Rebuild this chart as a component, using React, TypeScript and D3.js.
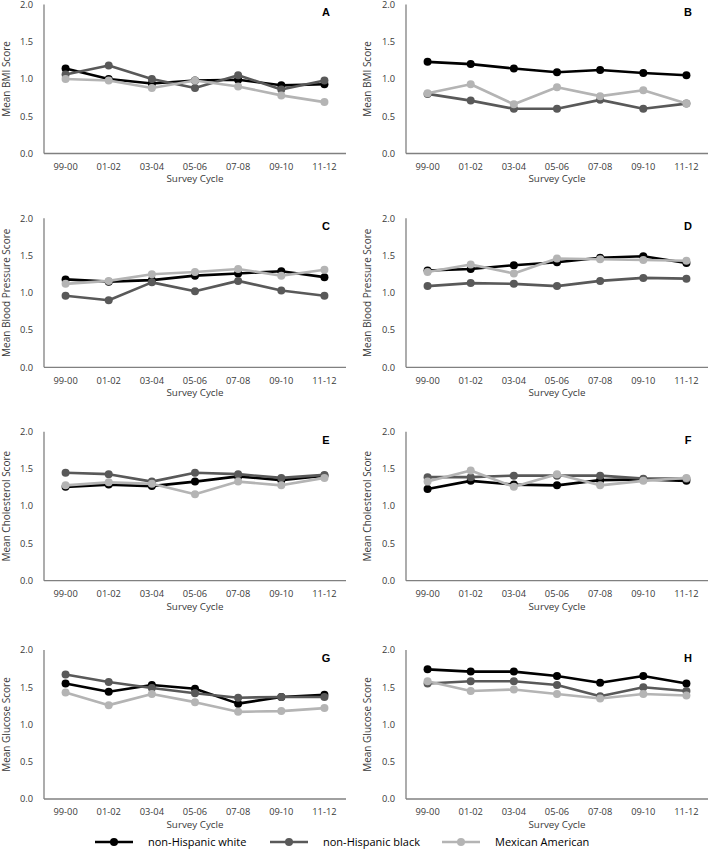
import React from "react";
import * as d3 from "d3";

const cycles = ["99-00", "01-02", "03-04", "05-06", "07-08", "09-10", "11-12"];
const yTicks = [0, 0.5, 1.0, 1.5, 2.0];
const seriesNames = ["non-Hispanic white", "non-Hispanic black", "Mexican American"];
const seriesColors = ["#000000", "#595959", "#b4b4b4"];

// Panel A – BMI
const bmiA_white = [1.14, 1.0, 0.94, 0.98, 0.99, 0.915, 0.93];
const bmiA_black = [1.06, 1.18, 1.0, 0.88, 1.05, 0.86, 0.98];
const bmiA_mex = [1.0, 0.98, 0.88, 0.98, 0.9, 0.78, 0.69];
// Panel B – BMI
const bmiB_white = [1.23, 1.2, 1.14, 1.09, 1.12, 1.08, 1.05];
const bmiB_black = [0.8, 0.71, 0.6, 0.6, 0.72, 0.6, 0.67];
const bmiB_mex = [0.81, 0.93, 0.66, 0.89, 0.77, 0.85, 0.67];
// Panel C – Blood pressure
const bpC_white = [1.18, 1.15, 1.17, 1.23, 1.26, 1.29, 1.21];
const bpC_black = [0.96, 0.9, 1.14, 1.02, 1.16, 1.03, 0.96];
const bpC_mex = [1.12, 1.16, 1.25, 1.28, 1.32, 1.23, 1.31];
// Panel D – Blood pressure
const bpD_white = [1.3, 1.32, 1.37, 1.41, 1.47, 1.49, 1.4];
const bpD_black = [1.09, 1.13, 1.12, 1.09, 1.16, 1.2, 1.19];
const bpD_mex = [1.28, 1.38, 1.26, 1.46, 1.45, 1.44, 1.43];
// Panel E – Cholesterol
const chE_white = [1.26, 1.29, 1.27, 1.33, 1.4, 1.35, 1.41];
const chE_black = [1.45, 1.43, 1.33, 1.45, 1.43, 1.38, 1.42];
const chE_mex = [1.28, 1.32, 1.3, 1.16, 1.33, 1.28, 1.38];
// Panel F – Cholesterol
const chF_white = [1.23, 1.34, 1.29, 1.28, 1.35, 1.36, 1.34];
const chF_black = [1.39, 1.39, 1.41, 1.41, 1.41, 1.37, 1.37];
const chF_mex = [1.33, 1.48, 1.26, 1.43, 1.28, 1.34, 1.38];
// Panel G – Glucose
const glG_white = [1.55, 1.44, 1.53, 1.48, 1.28, 1.37, 1.4];
const glG_black = [1.67, 1.57, 1.49, 1.42, 1.36, 1.37, 1.37];
const glG_mex = [1.43, 1.26, 1.41, 1.3, 1.17, 1.18, 1.22];
// Panel H – Glucose
const glH_white = [1.74, 1.71, 1.71, 1.65, 1.56, 1.65, 1.55];
const glH_black = [1.55, 1.58, 1.58, 1.53, 1.38, 1.5, 1.45];
const glH_mex = [1.58, 1.45, 1.47, 1.41, 1.35, 1.41, 1.39];

const panelLetters = ["A", "B", "C", "D", "E", "F", "G", "H"];
const yLabels = [
  "Mean BMI Score", "Mean BMI Score",
  "Mean Blood Pressure Score", "Mean Blood Pressure Score",
  "Mean Cholesterol Score", "Mean Cholesterol Score",
  "Mean Glucose Score", "Mean Glucose Score",
];
const panelData = [
  [bmiA_white, bmiA_black, bmiA_mex],
  [bmiB_white, bmiB_black, bmiB_mex],
  [bpC_white, bpC_black, bpC_mex],
  [bpD_white, bpD_black, bpD_mex],
  [chE_white, chE_black, chE_mex],
  [chF_white, chF_black, chF_mex],
  [glG_white, glG_black, glG_mex],
  [glH_white, glH_black, glH_mex],
];

const FONT = "'Open Sans', sans-serif";
const TEXT = "#3a3a3a";

const rowTops = [4.5, 218.3, 431.7, 650];
const plotH = 149;
const colLefts = [44, 406];
const plotW = 302;
const yLabelX = [6, 367];

function Panel({ idx }: { idx: number }) {
  const row = Math.floor(idx / 2);
  const col = idx % 2;
  const left = colLefts[col];
  const top = rowTops[row];
  const x = d3.scaleBand<string>().domain(cycles).range([left, left + plotW]);
  const y = d3.scaleLinear().domain([0, 2]).range([top + plotH, top]);
  const line = d3
    .line<number>()
    .x((_, i) => (x(cycles[i]) as number) + x.bandwidth() / 2)
    .y((v) => y(v));
  const series = panelData[idx];
  return (
    <g>
      {yTicks.map((t) => (
        <text
          key={t}
          x={left - 11}
          y={y(t)}
          dy="0.35em"
          textAnchor="end"
          fontSize={9.3}
          fill={TEXT}
          fontFamily={FONT}
        >
          {d3.format(".1f")(t)}
        </text>
      ))}
      <line x1={left} x2={left} y1={top} y2={top + plotH} stroke="#808080" strokeWidth={1.3} />
      <line x1={left} x2={left + plotW} y1={top + plotH} y2={top + plotH} stroke="#808080" strokeWidth={1.3} />
      {cycles.map((c) => (
        <text
          key={c}
          x={(x(c) as number) + x.bandwidth() / 2}
          y={top + plotH + 13}
          dy="0.35em"
          textAnchor="middle"
          fontSize={9.3}
          fill={TEXT}
          fontFamily={FONT}
        >
          {c}
        </text>
      ))}
      <text
        x={left + plotW / 2}
        y={top + plotH + 25.5}
        dy="0.35em"
        textAnchor="middle"
        fontSize={9.8}
        fill={TEXT}
        fontFamily={FONT}
      >
        Survey Cycle
      </text>
      <text
        transform={`translate(${yLabelX[col]},${top + plotH / 2}) rotate(-90)`}
        textAnchor="middle"
        dy="0.35em"
        fontSize={10}
        fill={TEXT}
        fontFamily={FONT}
      >
        {yLabels[idx]}
      </text>
      <text
        x={left + plotW - 20}
        y={top + 8}
        dy="0.35em"
        textAnchor="middle"
        fontSize={11}
        fontWeight="bold"
        fill="#000"
        fontFamily="'Liberation Sans', Arial, sans-serif"
      >
        {panelLetters[idx]}
      </text>
      {series.map((vals, si) => (
        <g key={si}>
          <path d={line(vals) || ""} fill="none" stroke={seriesColors[si]} strokeWidth={2.6} strokeLinejoin="round" />
          {vals.map((v, i) => (
            <circle
              key={i}
              cx={(x(cycles[i]) as number) + x.bandwidth() / 2}
              cy={y(v)}
              r={4}
              fill={seriesColors[si]}
            />
          ))}
        </g>
      ))}
    </g>
  );
}

const legendX = [95, 270, 442];

export default function App() {
  return (
    <svg
      width={709}
      height={859}
      style={{ position: "absolute", left: 0, top: 0, background: "#fff" }}
    >
      <rect width={709} height={859} fill="#fff" />
      {panelData.map((_, i) => (
        <Panel key={i} idx={i} />
      ))}
      {seriesNames.map((n, i) => (
        <g key={n}>
          <line x1={legendX[i]} x2={legendX[i] + 38} y1={842} y2={842} stroke={seriesColors[i]} strokeWidth={2.6} />
          <circle cx={legendX[i] + 19} cy={842} r={4} fill={seriesColors[i]} />
          <text
            x={legendX[i] + 53}
            y={842}
            dy="0.35em"
            fontSize={11}
            fill="#000"
            fontFamily={FONT}
          >
            {n}
          </text>
        </g>
      ))}
    </svg>
  );
}
